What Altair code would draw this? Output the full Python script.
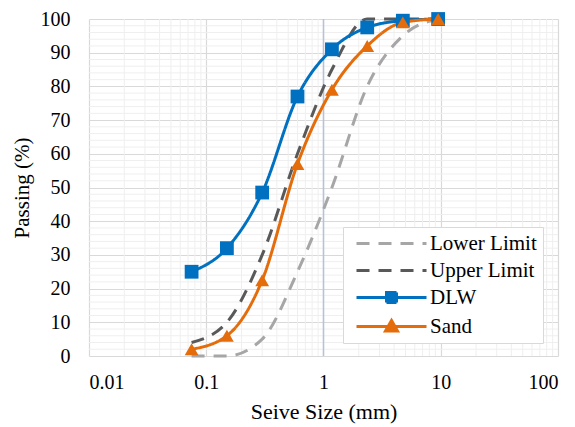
import altair as alt
import pandas as pd

# ---- data ----
sieve = [0.075, 0.15, 0.3, 0.6, 1.18, 2.36, 4.75, 9.5]
lower_limit = [0, 0, 5, 25, 50, 80, 95, 100]
upper_limit = [4, 10, 30, 60, 85, 100, 100, 100]
dlw = [25, 32, 48.5, 77, 91, 97.5, 99.5, 100]
sand = [2, 6, 22.5, 57, 79, 92, 99, 100]

series_names = ["Lower Limit", "Upper Limit", "DLW", "Sand"]
series_colors = ["#A6A6A6", "#595959", "#0070C0", "#E46C0A"]

x_major = [0.01, 0.1, 1, 10, 100]
x_minor = [m * d for d in [0.01, 0.1, 1, 10] for m in range(2, 10)]
y_major = list(range(0, 101, 10))
y_minor = [v for v in range(0, 101, 2) if v % 10 != 0]
x_axis_line = [1]

rows = []
for name, vals in zip(series_names, [lower_limit, upper_limit, dlw, sand]):
    for s, v in zip(sieve, vals):
        rows.append({"series": name, "size": s, "passing": v})
df = pd.DataFrame(rows)
df_pts = df[df["series"].isin(["DLW", "Sand"])]

FONT = "Liberation Serif"
W, H = 469, 337
X_TITLE = "Seive Size (mm)"
Y_TITLE = "Passing (%)"

xscale = alt.Scale(type="log", domain=[0.01, 100], nice=False)
yscale = alt.Scale(domain=[0, 100], nice=False, zero=True)
cscale = alt.Scale(domain=series_names, range=series_colors)

xaxis = alt.Axis(
    values=x_major,
    format="~g",
    labelPadding=16,
    titlePadding=9,
    titleFontSize=22,
)
yaxis = alt.Axis(
    values=y_major,
    labelPadding=19,
    titlePadding=8,
    titleFontSize=21,
)


def X(field):
    return alt.X(field, scale=xscale, axis=xaxis, title=X_TITLE)


def Y(field):
    return alt.Y(field, scale=yscale, axis=yaxis, title=Y_TITLE)


minor_x = alt.Chart(pd.DataFrame({"x": x_minor, "y0": 0, "y1": 100})).mark_rule(
    color="#EFEFEF", strokeWidth=1
).encode(x=X("x:Q"), y=Y("y0:Q"), y2="y1:Q")

minor_y = alt.Chart(pd.DataFrame({"y": y_minor, "x0": 0.01, "x1": 100})).mark_rule(
    color="#EFEFEF", strokeWidth=1
).encode(y=Y("y:Q"), x=X("x0:Q"), x2="x1:Q")

one_line = alt.Chart(pd.DataFrame({"x": x_axis_line, "y0": 0, "y1": 100})).mark_rule(
    color="#B4C3DC", strokeWidth=1.5
).encode(x=X("x:Q"), y=Y("y0:Q"), y2="y1:Q")

shape_expr = (
    "datum.value === 'DLW' ? 'M-7,0H7M-1,-1H1V1H-1Z' : "
    "(datum.value === 'Sand' ? 'M-7,0H7M0,-1.2L1.2,0.9H-1.2Z' : 'M-7,0H7')"
)
dash_expr = "(datum.value === 'DLW' || datum.value === 'Sand') ? [1,0] : [13,9]"
fill_expr = (
    "datum.value === 'DLW' ? '#0070C0' : (datum.value === 'Sand' ? '#E46C0A' : 'transparent')"
)
stroke_expr = (
    "datum.value === 'DLW' ? '#0070C0' : (datum.value === 'Sand' ? '#E46C0A' : "
    "(datum.value === 'Lower Limit' ? '#A6A6A6' : '#595959'))"
)

legend = alt.Legend(
    title=None,
    orient="none",
    legendX=254,
    legendY=208,
    padding=6,
    strokeColor="#D9D9D9",
    fillColor="white",
    labelLimit=300,
    rowPadding=5,
    symbolSize=100,
    symbolStrokeWidth=3,
    symbolOffset=32,
    labelOffset=28,
    symbolType=alt.ExprRef(expr=shape_expr),
    symbolDash=alt.ExprRef(expr=dash_expr),
    symbolFillColor=alt.ExprRef(expr=fill_expr),
    symbolStrokeColor=alt.ExprRef(expr=stroke_expr),
    symbolOpacity=1,
)

lines = alt.Chart(df).mark_line(interpolate="monotone", strokeWidth=3).encode(
    x=X("size:Q"),
    y=Y("passing:Q"),
    color=alt.Color("series:N", scale=cscale, legend=legend, sort=series_names),
    strokeDash=alt.StrokeDash(
        "series:N",
        scale=alt.Scale(domain=series_names, range=[[13, 9], [13, 9], [1, 0], [1, 0]]),
        legend=None,
    ),
    detail="series:N",
)

points = alt.Chart(df_pts).mark_point(filled=True, size=190, opacity=1).encode(
    x=X("size:Q"),
    y=Y("passing:Q"),
    color=alt.Color("series:N", scale=cscale, legend=None),
    shape=alt.Shape(
        "series:N",
        scale=alt.Scale(domain=["DLW", "Sand"], range=["square", "triangle-up"]),
        legend=None,
    ),
)

chart = (
    alt.layer(minor_x, minor_y, one_line, lines, points)
    .properties(
        width=W,
        height=H,
        autosize=alt.AutoSizeParams(type="none"),
        padding={"left": 89, "top": 19, "right": 17, "bottom": 71},
        background="white",
    )
    .configure(font=FONT)
    .configure_view(stroke=None)
    .configure_axis(
        grid=True,
        gridColor="#D9D9D9",
        gridWidth=1.2,
        ticks=False,
        domain=False,
        labelOverlap=False,
        labelFont=FONT,
        labelFontSize=20,
        labelColor="black",
        titleFont=FONT,
        titleFontWeight="normal",
        titleColor="black",
    )
    .configure_legend(
        labelFont=FONT,
        labelFontSize=21,
        labelColor="black",
    )
)

chart.save("out.html", embed_options={"renderer": "svg", "actions": False})
